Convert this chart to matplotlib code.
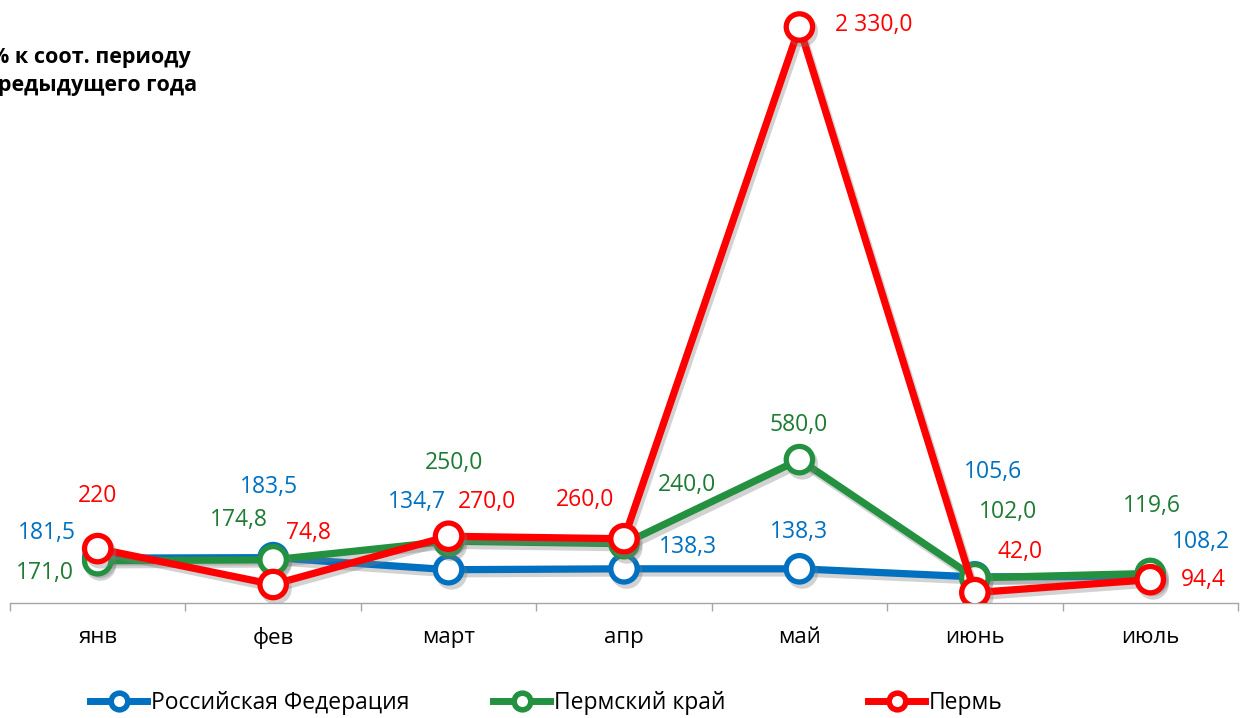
import matplotlib
matplotlib.use('Agg')
import matplotlib.pyplot as plt
import matplotlib.patheffects as pe
from matplotlib.lines import Line2D
from matplotlib.ticker import FixedLocator, NullFormatter, FixedFormatter

# ---- data ----
months = ['янв', 'фев', 'март', 'апр', 'май', 'июнь', 'июль']
rf = [181.5, 183.5, 134.7, 138.3, 138.3, 105.6, 108.2]
perm_krai = [171.0, 174.8, 250.0, 240.0, 580.0, 102.0, 119.6]
perm = [220.0, 74.8, 270.0, 260.0, 2330.0, 42.0, 94.4]
rf_labels = ['181,5', '183,5', '134,7', '138,3', '138,3', '105,6', '108,2']
krai_labels = ['171,0', '174,8', '250,0', '240,0', '580,0', '102,0', '119,6']
perm_labels = ['220', '74,8', '270,0', '260,0', '2 330,0', '42,0', '94,4']
series_names = ['Российская Федерация', 'Пермский край', 'Пермь']
title_text = ['% к соот. периоду', 'предыдущего года']

# ---- label offsets (pixels, dx, dy up) ----
rf_off = [(-51, 25), (-4, 71), (-32, 68), (64, 22), (0, 37), (18, 105), (51, 34)]
krai_off = [(-53, -12), (-34, 40), (5, 78), (63, 59), (-1, 35), (33, 66), (2, 67)]
perm_off = [(0, 53), (35, 52), (38, 34), (-39, 39), (74, 2), (45, 41), (53, 0)]

FONT = ['Open Sans', 'DejaVu Sans']
plt.rcParams['font.family'] = FONT

W, H = 1248, 718
fig = plt.figure(figsize=(W / 100, H / 100), dpi=100)
ax_left, ax_right, ax_bottom, ax_top = 10, 1238, 603, 9.7
ax = fig.add_axes([ax_left / W, 1 - ax_bottom / H, (ax_right - ax_left) / W, (ax_bottom - ax_top) / H])

x = list(range(len(months)))
colors = ['#0070C0', '#23913F', '#FF0000']
text_colors = ['#0070C0', '#1E7B34', '#FF0000']
shadow = [pe.SimpleLineShadow(offset=(2, -3), shadow_color='#808080', alpha=0.35, rho=1.0), pe.Normal()]

all_vals = [rf, perm_krai, perm]
all_labels = [rf_labels, krai_labels, perm_labels]
all_off = [rf_off, krai_off, perm_off]
for k, (vals, labs, offs) in enumerate(zip(all_vals, all_labels, all_off)):
    ax.plot(x, vals, color=colors[k], lw=5.2, marker='o', ms=19, mfc='white',
            mec=colors[k], mew=3.8, zorder=3 + k, path_effects=shadow, solid_capstyle='round')
    for xi, v, lab, (dx, dy) in zip(x, vals, labs, offs):
        ax.annotate(lab, (xi, v), xytext=(dx, dy), textcoords='offset pixels',
                    ha='center', va='center', fontsize=16.5, color=text_colors[k], zorder=10)

ax.set_xlim(-0.5, len(months) - 0.5)
ax.set_ylim(0, 2400)
for s in ['left', 'right', 'top']:
    ax.spines[s].set_visible(False)
ax.spines['bottom'].set_color('#A6A6A6')
ax.spines['bottom'].set_linewidth(1.0)
ax.set_yticks([])
ax.xaxis.set_major_locator(FixedLocator([i - 0.5 for i in range(len(months) + 1)]))
ax.xaxis.set_major_formatter(NullFormatter())
ax.xaxis.set_minor_locator(FixedLocator(x))
ax.xaxis.set_minor_formatter(FixedFormatter(months))
ax.tick_params(axis='x', which='major', length=6, width=1, color='#A6A6A6', direction='out')
ax.tick_params(axis='x', which='minor', length=0, pad=17, labelsize=16, labelcolor='black')

fig.text(-10 / W, 1 - 57 / H, title_text[0], fontsize=15.5, fontweight='bold', ha='left', va='center')
fig.text(-16 / W, 1 - 86 / H, title_text[1], fontsize=15.5, fontweight='bold', ha='left', va='center')

legend_x = [90, 493, 868]
for c, name, lx in zip(colors, series_names, legend_x):
    h = Line2D([0], [0], color=c, lw=5, marker='o', ms=12, mfc='white', mec=c, mew=4)
    fig.legend([h], [name], loc='center left', bbox_to_anchor=(lx / W, 1 - 703 / H),
               frameon=False, fontsize=16.5, handlelength=2.5, handletextpad=0.15,
               borderpad=0, borderaxespad=0)

fig.savefig('out.png', dpi=100)
